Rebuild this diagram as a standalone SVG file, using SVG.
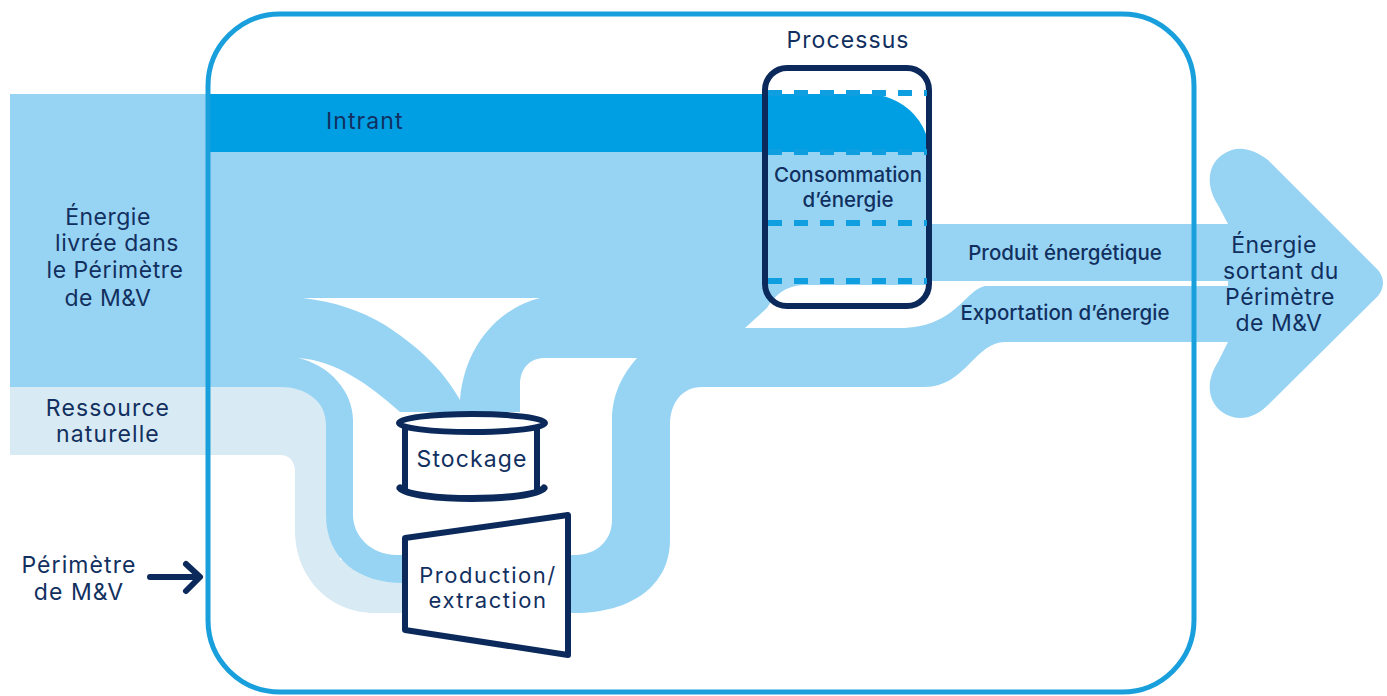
<svg xmlns="http://www.w3.org/2000/svg" width="1387" height="696" viewBox="0 0 1387 696">
<style>
text{font-family:"Inter","Liberation Sans",sans-serif;fill:#12305f;text-anchor:middle;font-size:23px;letter-spacing:.5px}
.m{font-weight:500;font-size:20.5px;letter-spacing:0}
.w{letter-spacing:1.1px}
.p{font-size:22px;letter-spacing:1.5px}
.node{fill:#fff;stroke:#0b2a5b;stroke-width:6;stroke-linejoin:round}
.dash{fill:none;stroke:#0f9fe0;stroke-width:6;stroke-dasharray:14 12}
.hole{fill:#fff}
</style>
<rect width="1387" height="696" fill="#fff"/>
<g id="connectors">
<path id="flow-pale" fill="#d8eaf3" d="M10,387H340V560H410V613H375C330,613 295,578 295,530V472C295,462 290,455 280,455H10Z"/>
<path id="flow-energy" fill="#97d4f4" d="M10,94H207V152H927V224H1228L1218,205C1205,185 1208,165 1222,155C1238,143 1255,150 1268,160L1378,270Q1388,283 1378,296L1268,405C1255,418 1238,423 1222,412C1208,402 1205,382 1218,362L1228,342H1005C975,342 965,387 925,387H702C682,387 670,403 670,425V540C670,585 632,613 575,613H500V583H403C360,583 326,560 326,515V425C326,400 305,387 280,387H10Z"/>
<path class="hole" d="M303,298H540C505,306 465,340 460,400C440,365 415,345 385,325C360,310 335,302 303,298Z"/>
<path class="hole" d="M298,358C335,360 370,385 400,412H520V385C520,368 530,358 545,358H637C622,375 612,395 612,420V520C612,540 597,555 575,555H397C370,555 353,535 353,515V420C353,392 330,365 298,358Z"/>
<path class="hole" d="M745,328L767,308C775,295 785,286 803,285H927V281H1228V286H985C965,290 955,328 900,328Z"/>
<path id="flow-intrant" fill="#009fe3" d="M207,94H870C900,96 920,115 927,137V152H207Z"/>
<path id="perimeter-arrow" fill="none" stroke="#0b2a5b" stroke-width="6" stroke-linecap="round" stroke-linejoin="round" d="M150,577H199M186,564L200,577L186,591"/>
</g>
<g id="perimetre"><rect x="208" y="14" width="986" height="678" rx="72" fill="none" stroke="#189fdc" stroke-width="5"/></g>
<g id="processus">
<rect x="765" y="68" width="164" height="238" rx="22" fill="none" stroke="#0b2a5b" stroke-width="6"/>
<path class="dash" d="M768,93H927M768,152H927M768,223H927M768,281H927"/>
<text x="848" y="48" class="w">Processus</text>
<text class="m"><tspan x="848" y="182">Consommation</tspan><tspan x="848" y="207">d’énergie</tspan></text>
</g>
<g id="stockage">
<path d="M405,423H537V493H405Z" fill="#fff"/>
<path fill="none" stroke="#0b2a5b" stroke-width="6" d="M405,423V490M537,423V490"/>
<ellipse class="node" cx="472" cy="423" rx="73" ry="9"/>
<path fill="none" stroke="#0b2a5b" stroke-width="7" stroke-linecap="round" d="M400,488C412,502 532,502 544,488"/>
<text x="472" y="467" class="w">Stockage</text>
</g>
<g id="production">
<path class="node" d="M405,538L568,515V655L405,630Z"/>
<text class="p"><tspan x="488" y="583">Production/</tspan><tspan x="488" y="608">extraction</tspan></text>
</g>
<g id="labels">
<text x="326" y="129" class="w" style="text-anchor:start">Intrant</text>
<text><tspan x="108" y="225">Énergie</tspan><tspan x="117" y="251">livrée dans</tspan><tspan x="115" y="278">le Périmètre</tspan><tspan x="108" y="306">de M&amp;V</tspan></text>
<text class="w"><tspan x="108" y="416">Ressource</tspan><tspan x="108" y="442">naturelle</tspan></text>
<text class="w"><tspan x="79" y="573">Périmètre</tspan><tspan x="79" y="600">de M&amp;V</tspan></text>
<text x="1065" y="260" class="m">Produit énergétique</text>
<text x="1065" y="320" class="m">Exportation d’énergie</text>
<text><tspan x="1274" y="253">Énergie</tspan><tspan x="1281" y="279">sortant du</tspan><tspan x="1280" y="305">Périmètre</tspan><tspan x="1279" y="331">de M&amp;V</tspan></text>
</g>
</svg>
